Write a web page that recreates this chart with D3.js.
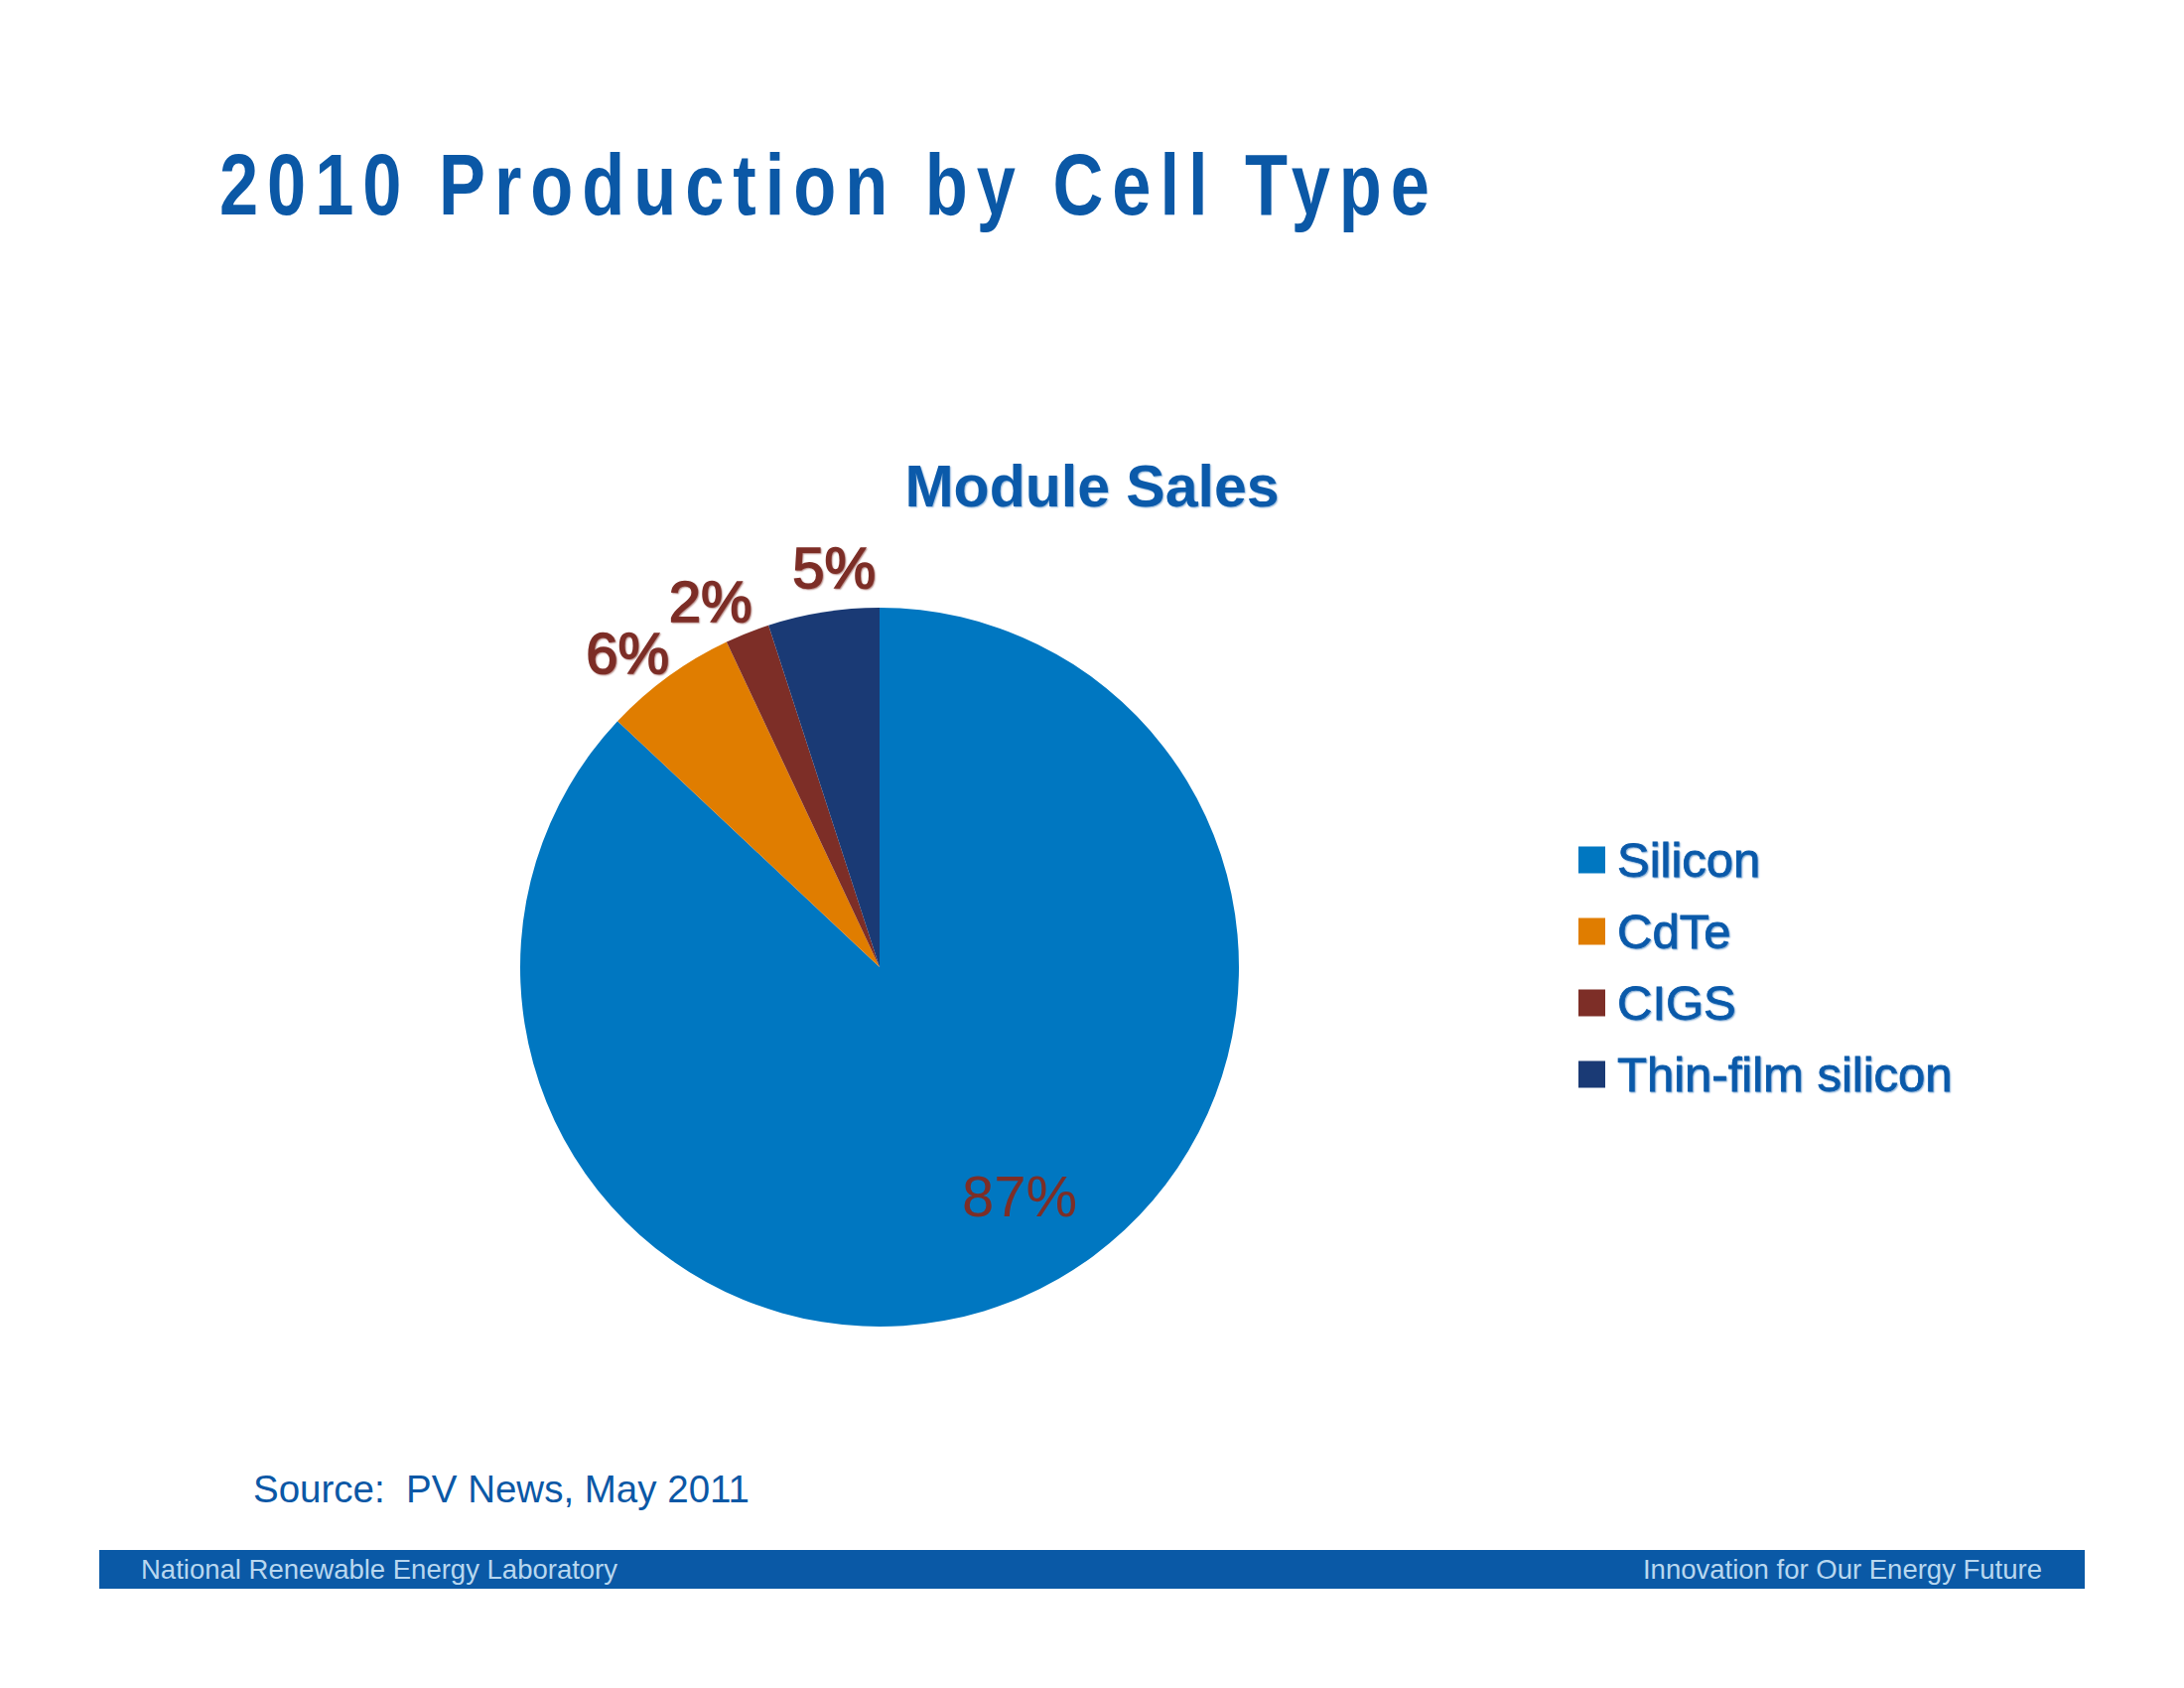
<!DOCTYPE html>
<html>
<head>
<meta charset="utf-8">
<script src="https://cdn.jsdelivr.net/npm/d3@7"></script>
<style>
  html, body { margin: 0; padding: 0; background: #ffffff; }
  svg { display: block; }
</style>
</head>
<body>
<svg id="chart" width="2200" height="1700"></svg>
<script>
// ---- data ----
const categories = ["Silicon", "CdTe", "CIGS", "Thin-film silicon"];
const values = [87, 6, 2, 5];
const labels = ["87%", "6%", "2%", "5%"];
const colors = ["#0077c1", "#e07d00", "#7d2e27", "#1a3a75"];
const pageTitle = "2010 Production by Cell Type";
const chartTitle = "Module Sales";
const sourceText = "Source:  PV News, May 2011";
const footerLeft = "National Renewable Energy Laboratory";
const footerRight = "Innovation for Our Energy Future";

// ---- layout ----
const svg = d3.select("#chart");
const W = 2200, H = 1700;
const cx = 886, cy = 974, R = 362;
const blue = "#0b58a6";
const labelColor = "#7d2e27";
const fontMain = "'Liberation Sans', Arial, Helvetica, sans-serif";
// label placement tweaks (degrees of rotation from the slice mid-angle), layout only
const labelAngleNudge = [-8.1, -2.7, -3.2, 2.5];
const insideLabelR = 270, outsideLabelR = 406;

svg.append("rect").attr("width", W).attr("height", H).attr("fill", "#ffffff");

// page title (condensed bold with wide tracking)
const narrow = 0.8;
svg.append("text")
  .attr("transform", `translate(221,216) scale(${narrow},1)`)
  .attr("fill", blue)
  .attr("font-family", fontMain)
  .attr("font-weight", "bold")
  .attr("font-size", 88)
  .attr("textLength", 1219 / narrow)
  .attr("lengthAdjust", "spacing")
  .text(pageTitle);

// chart title
svg.append("text")
  .attr("x", 1100).attr("y", 510)
  .attr("text-anchor", "middle")
  .attr("fill", "#0b5aaa")
  .attr("font-family", fontMain)
  .attr("font-weight", "bold")
  .attr("font-size", 59)
  .style("text-shadow", "1px 1px 1.5px rgba(11,90,170,0.45)")
  .text(chartTitle);

// pie
const data = categories.map((c, i) => ({ name: c, value: values[i], label: labels[i], color: colors[i], nudge: labelAngleNudge[i] }));
const pie = d3.pie().sort(null).value(d => d.value);
const arcs = pie(data);
const arc = d3.arc().innerRadius(0).outerRadius(R);

const g = svg.append("g").attr("transform", `translate(${cx},${cy})`);
g.selectAll("path.slice")
  .data(arcs)
  .enter().append("path")
  .attr("class", "slice")
  .attr("d", arc)
  .attr("fill", d => d.data.color);

// labels
const isInside = d => (d.endAngle - d.startAngle) / (2 * Math.PI) > 0.5;
g.selectAll("text.lbl")
  .data(arcs)
  .enter().append("text")
  .attr("class", "lbl")
  .attr("transform", d => {
    const r = isInside(d) ? insideLabelR : outsideLabelR;
    const a = (d.startAngle + d.endAngle) / 2 + d.data.nudge * Math.PI / 180;
    return `translate(${r * Math.sin(a)},${-r * Math.cos(a)})`;
  })
  .attr("dy", "0.36em")
  .attr("text-anchor", "middle")
  .attr("fill", labelColor)
  .attr("stroke", d => isInside(d) ? "none" : labelColor)
  .attr("stroke-width", 1.6)
  .attr("font-family", fontMain)
  .attr("font-size", 58)
  .style("text-shadow", d => isInside(d) ? "none" : "1px 1px 1.5px rgba(125,46,39,0.45)")
  .text(d => d.data.label);

// legend
const legend = svg.append("g").attr("transform", "translate(1590,866)");
const item = legend.selectAll("g.item")
  .data(data)
  .enter().append("g")
  .attr("class", "item")
  .attr("transform", (d, i) => `translate(0,${i * 72})`);
item.append("rect")
  .attr("x", 0).attr("y", -13.5)
  .attr("width", 27).attr("height", 27)
  .attr("fill", d => d.color);
item.append("text")
  .attr("x", 39).attr("y", 17)
  .attr("fill", "#0b5aaa")
  .attr("stroke", "#0b5aaa")
  .attr("stroke-width", 0.8)
  .attr("font-family", fontMain)
  .attr("font-size", 49)
  .style("text-shadow", "1px 1px 1.5px rgba(11,90,170,0.45)")
  .text(d => d.name);

// source
svg.append("text")
  .attr("x", 255).attr("y", 1513)
  .attr("fill", blue)
  .attr("font-family", fontMain)
  .attr("font-size", 38.5)
  .style("white-space", "pre")
  .attr("xml:space", "preserve")
  .text(sourceText);

// footer bar
svg.append("rect")
  .attr("x", 100).attr("y", 1561)
  .attr("width", 2000).attr("height", 39)
  .attr("fill", "#0a59a6");
svg.append("text")
  .attr("x", 142).attr("y", 1590)
  .attr("fill", "#b8d7ef")
  .attr("font-family", fontMain)
  .attr("font-size", 27.5)
  .text(footerLeft);
svg.append("text")
  .attr("x", 2057).attr("y", 1590)
  .attr("text-anchor", "end")
  .attr("fill", "#b8d7ef")
  .attr("font-family", fontMain)
  .attr("font-size", 27.5)
  .text(footerRight);
</script>
</body>
</html>
